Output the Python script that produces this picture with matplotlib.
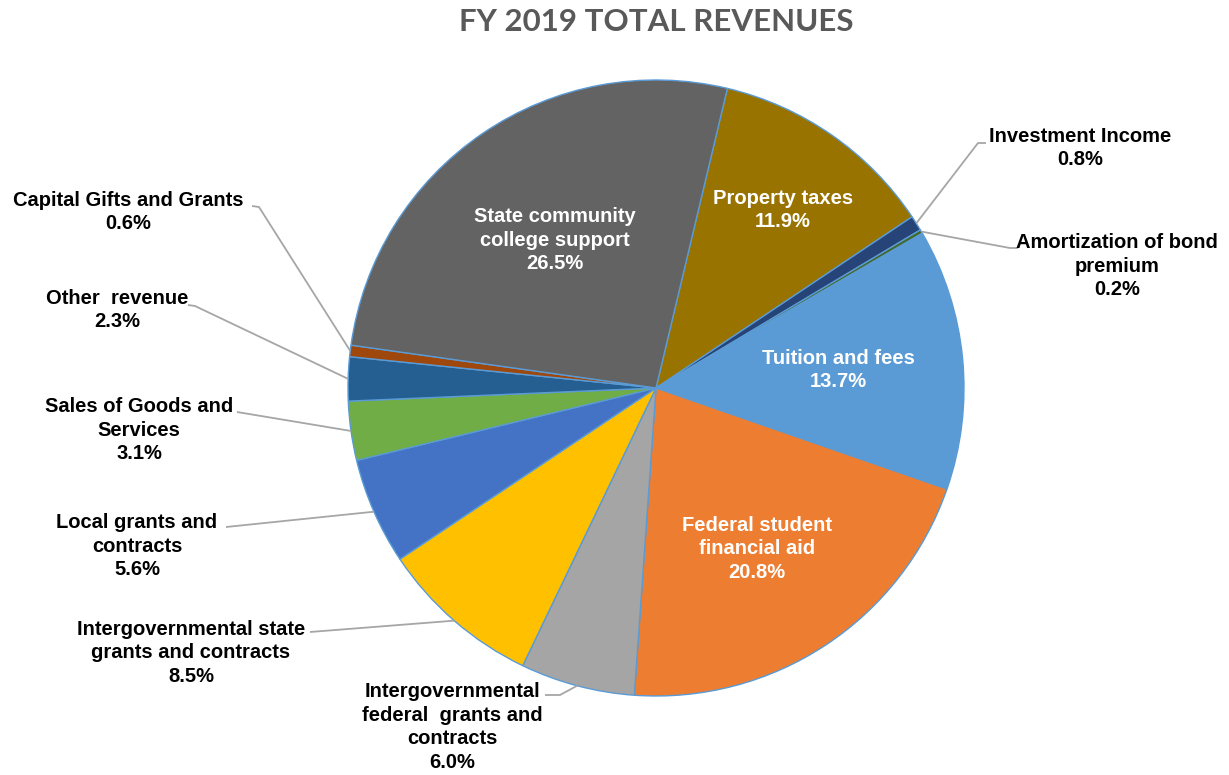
import matplotlib
matplotlib.use("Agg")
import matplotlib.pyplot as plt
import numpy as np

categories = [
    "Property taxes",
    "Investment Income",
    "Amortization of bond\npremium",
    "Tuition and fees",
    "Federal student\nfinancial aid",
    "Intergovernmental\nfederal  grants and\ncontracts",
    "Intergovernmental state\ngrants and contracts",
    "Local grants and\ncontracts",
    "Sales of Goods and\nServices",
    "Other  revenue",
    "Capital Gifts and Grants",
    "State community\ncollege support",
]
values = [11.9, 0.8, 0.2, 13.7, 20.8, 6.0, 8.5, 5.6, 3.1, 2.3, 0.6, 26.5]
colors = ["#997300", "#264478", "#43682B", "#5B9BD5", "#ED7D31", "#A5A5A5",
          "#FFC000", "#4472C4", "#70AD47", "#255E91", "#9E480E", "#636363"]

W, H = 1229, 775
fig = plt.figure(figsize=(W / 100, H / 100), dpi=100)
ax = fig.add_axes([0, 0, 1, 1])

cx, cy, R = 656, H - 388, 308
wedges, _ = ax.pie(values, colors=colors, startangle=76.6, counterclock=False,
                   center=(cx, cy), radius=R, frame=True,
                   wedgeprops=dict(edgecolor="#5B9BD5", linewidth=1.0))
ax.set_xlim(0, W)
ax.set_ylim(0, H)
ax.set_aspect("equal")
ax.axis("off")

FONT = "Liberation Sans"
FS = 14.5
LS = 1.33

# inside labels: index -> text centre (pixel coords, y from top)
inside = {0: (783, 210), 3: (838, 370), 4: (757, 549), 11: (555, 240)}
for i, (x, y) in inside.items():
    ax.text(x, H - y, f"{categories[i]}\n{values[i]:.1f}%", ha="center", va="center",
            color="white", fontsize=FS, fontweight="bold", family=FONT, linespacing=LS)

# outside labels: index -> (text centre, elbow point, end of leader)
outside = {
    1: ((1080, 148), (978, 143), (986, 143)),
    2: ((1117, 266), (1010, 248), (1018, 248)),
    10: ((128, 212), (259, 207), (252, 206)),
    9: ((117, 310), (195, 306), (188, 305)),
    8: ((139, 430), (237, 412), (237, 412)),
    7: ((137, 546), (226, 527), (226, 527)),
    6: ((191, 653), (310, 632), (310, 632)),
    5: ((452, 727), (560, 695), (545, 695)),
}
for i, ((tx, ty), (ex, ey), (jx, jy)) in outside.items():
    w = wedges[i]
    mid = np.deg2rad((w.theta1 + w.theta2) / 2)
    px, py = cx + R * np.cos(mid), cy + R * np.sin(mid)
    ax.plot([px, ex, jx], [py, H - ey, H - jy], color="#A6A6A6", lw=1.3,
            solid_capstyle="butt", zorder=1)
    ax.text(tx, H - ty, f"{categories[i]}\n{values[i]:.1f}%", ha="center", va="center",
            color="black", fontsize=FS, fontweight="bold", family=FONT, linespacing=LS)

ax.text(656, H - 22, "FY 2019 TOTAL REVENUES", ha="center", va="center",
        color="#595959", fontsize=22.5, fontweight="bold", family="Lato")

fig.savefig("out.png", dpi=100, facecolor="white")
